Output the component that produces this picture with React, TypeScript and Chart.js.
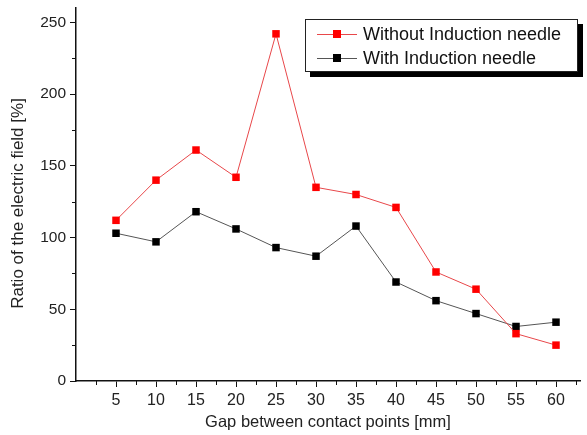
import React, { useEffect, useRef } from "react";
import { Chart, registerables } from "chart.js";

Chart.register(...registerables);

const gaps = [5, 10, 15, 20, 25, 30, 35, 40, 45, 50, 55, 60];
const withoutNeedle = [112, 140, 161, 142, 242, 135, 130, 121, 76, 64, 33, 25];
const withNeedle = [103, 97, 118, 106, 93, 87, 108, 69, 56, 47, 38, 41];
const yTicks = [0, 50, 100, 150, 200, 250];
const yMinor = [25, 75, 125, 175, 225];
const xTicks = [5, 10, 15, 20, 25, 30, 35, 40, 45, 50, 55, 60];
const xMinor = [2.5, 7.5, 12.5, 17.5, 22.5, 27.5, 32.5, 37.5, 42.5, 47.5, 52.5, 57.5, 62.5];
const seriesNames = ["Without Induction needle", "With Induction needle"];
const xTitle = "Gap between contact points [mm]";
const yTitle = "Ratio of the electric field [%]";

const FONT = "'Liberation Sans', Arial, sans-serif";

export default function App() {
  const ref = useRef<HTMLCanvasElement | null>(null);
  useEffect(() => {
    if (!ref.current) return;
    const extras = {
      id: "extras",
      afterDraw(chart: any) {
        const ctx = chart.ctx;
        const xs = chart.scales.x;
        const ys = chart.scales.y;
        const ca = chart.chartArea;
        ctx.save();
        ctx.strokeStyle = "#111";
        ctx.lineWidth = 1;
        ctx.beginPath();
        for (const v of yMinor) {
          const py = Math.round(ys.getPixelForValue(v)) + 0.5;
          ctx.moveTo(ca.left - 4, py);
          ctx.lineTo(ca.left, py);
        }
        for (const v of xMinor) {
          const px = Math.round(xs.getPixelForValue(v)) + 0.5;
          ctx.moveTo(px, ca.bottom);
          ctx.lineTo(px, ca.bottom + 4);
        }
        ctx.stroke();
        // y title
        ctx.save();
        ctx.translate(18, (ca.top + ca.bottom) / 2 + 9);
        ctx.rotate(-Math.PI / 2);
        ctx.fillStyle = "#222";
        ctx.font = "17px " + FONT;
        ctx.textAlign = "center";
        ctx.textBaseline = "middle";
        ctx.fillText(yTitle, 0, 0);
        ctx.restore();
        ctx.restore();
      },
    };
    const legendBox = {
      id: "legendBox",
      afterDraw(chart: any) {
        const ctx = chart.ctx;
        const ca = chart.chartArea;
        const w = 273;
        const h = 53;
        const x0 = ca.right - 2 - w;
        const y0 = ca.top + 11;
        ctx.save();
        ctx.fillStyle = "#000";
        ctx.fillRect(x0 + 5, y0 + 5, w, h);
        ctx.fillStyle = "#fff";
        ctx.fillRect(x0, y0, w, h);
        ctx.strokeStyle = "#222";
        ctx.lineWidth = 1;
        ctx.strokeRect(x0 + 0.5, y0 + 0.5, w - 1, h - 1);
        const ds = chart.data.datasets;
        ds.forEach((d: any, i: number) => {
          const cy = y0 + 15 + i * 24;
          ctx.strokeStyle = d.borderColor;
          ctx.lineWidth = 1;
          ctx.beginPath();
          ctx.moveTo(x0 + 12, cy + 0.5);
          ctx.lineTo(x0 + 52, cy + 0.5);
          ctx.stroke();
          ctx.fillStyle = d.pointBackgroundColor;
          ctx.fillRect(x0 + 28, cy - 4, 8, 8);
          ctx.fillStyle = "#111";
          ctx.font = "18px " + FONT;
          ctx.textBaseline = "middle";
          ctx.textAlign = "left";
          ctx.fillText(d.label, x0 + 58, cy + 1);
        });
        ctx.restore();
      },
    };
    const chart = new Chart(ref.current, {
      type: "line",
      data: {
        datasets: [
          {
            label: seriesNames[0],
            data: gaps.map((g, i) => ({ x: g, y: withoutNeedle[i] })),
            borderColor: "#e8474a",
            backgroundColor: "#ff0000",
            pointBackgroundColor: "#ff0000",
            pointBorderColor: "#ff0000",
            borderWidth: 1,
            pointStyle: "rect",
            pointRadius: 5.3,
            pointBorderWidth: 0,
          },
          {
            label: seriesNames[1],
            data: gaps.map((g, i) => ({ x: g, y: withNeedle[i] })),
            borderColor: "#555",
            backgroundColor: "#000",
            pointBackgroundColor: "#000",
            pointBorderColor: "#000",
            borderWidth: 1,
            pointStyle: "rect",
            pointRadius: 5.3,
            pointBorderWidth: 0,
          },
        ],
      },
      options: {
        responsive: false,
        animation: false,
        layout: { padding: { left: 0, top: 8, right: 7, bottom: 0 } },
        plugins: { legend: { display: false }, tooltip: { enabled: false } },
        scales: {
          x: {
            type: "linear",
            min: 0,
            max: 63,
            afterFit: (s: any) => {
              s.height = 54;
              s.paddingLeft = 0;
              s.paddingRight = 0;
            },
            afterBuildTicks: (s: any) => {
              s.ticks = xTicks.map((v) => ({ value: v }));
            },
            grid: {
              drawOnChartArea: false,
              drawTicks: true,
              tickLength: 6,
              tickColor: "#111",
            },
            border: { display: true, color: "#111", width: 1.5 },
            ticks: {
              color: "#222",
              font: { family: FONT, size: 16 },
              padding: 4,
              maxRotation: 0,
              autoSkip: false,
            },
            title: {
              display: true,
              text: xTitle,
              color: "#222",
              font: { family: FONT, size: 16.5 },
              padding: { top: 0, bottom: 3 },
            },
          },
          y: {
            type: "linear",
            min: 0,
            max: 260,
            afterFit: (s: any) => {
              s.width = 76;
              s.paddingTop = 0;
              s.paddingBottom = 0;
            },
            afterBuildTicks: (s: any) => {
              s.ticks = yTicks.map((v) => ({ value: v }));
            },
            grid: {
              drawOnChartArea: false,
              drawTicks: true,
              tickLength: 6,
              tickColor: "#111",
            },
            border: { display: true, color: "#111", width: 1.5 },
            ticks: {
              color: "#222",
              font: { family: FONT, size: 15.5 },
              padding: 4,
            },
            title: { display: false },
          },
        },
      },
      plugins: [extras, legendBox],
    } as any);
    return () => chart.destroy();
  }, []);
  return (
    <div style={{ position: "fixed", left: 0, top: 0, width: 587, height: 435, background: "#fff" }}>
      <canvas ref={ref} width={587} height={435} />
    </div>
  );
}
